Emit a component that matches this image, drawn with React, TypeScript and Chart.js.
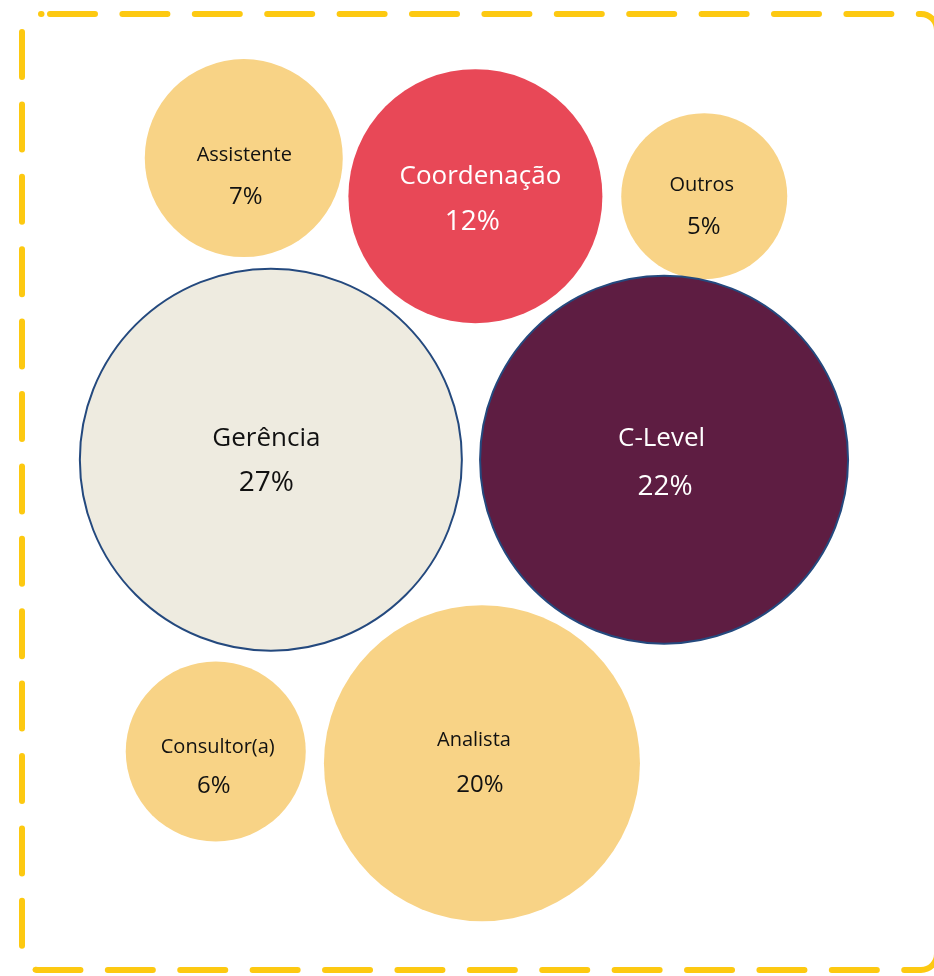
import React, { useEffect, useRef } from "react";
import { Chart, registerables } from "chart.js";

Chart.register(...registerables);

// ---- Data ----
const categories = ["Assistente", "Coordenação", "Outros", "Gerência", "C-Level", "Consultor(a)", "Analista"];
const percentages = [7, 12, 5, 27, 22, 6, 20];
// bubble positions (x, y on a 0–100 grid) and bubble sizes
const xValues = [26.1, 50.9, 75.4, 29.0, 71.1, 23.1, 51.6];
const yValues = [83.8, 79.9, 79.9, 52.9, 52.9, 23.0, 21.8];
const bubbleSizes = [99, 127, 83, 191, 184, 90, 158];

// ---- Styles ----
const YELLOW = "#F8D386";
const fillColors = [YELLOW, "#E84857", YELLOW, "#EEEBE0", "#5E1D42", YELLOW, YELLOW];
const strokeColors = ["rgba(0,0,0,0)", "rgba(0,0,0,0)", "rgba(0,0,0,0)", "#24497E", "#24497E", "rgba(0,0,0,0)", "rgba(0,0,0,0)"];
const strokeWidths = [0, 0, 0, 2, 2, 0, 0];
const textColors = ["#111111", "#FFFFFF", "#111111", "#111111", "#FFFFFF", "#111111", "#111111"];
const nameFontSizes = [20, 26, 20, 26, 26, 20, 20];
const pctFontSizes = [24, 28, 24, 28, 28, 24, 24];
const nameOffsets = [[0.5, 2.7], [5, -11.7], [-2.5, -5.3], [-4.5, -13.3], [-2.5, -14], [2, 1], [-8, -17.3]];
const pctOffsets = [[2, 46], [-3, 34], [-0.5, 38], [-4.5, 31.7], [1, 35], [-2, 41], [-2, 29]];
const FONT = "'Open Sans', 'Noto Sans', sans-serif";

const labelPlugin = {
  id: "bubbleLabels",
  afterDatasetsDraw(chart: any) {
    const ctx = chart.ctx;
    const meta = chart.getDatasetMeta(0);
    ctx.save();
    ctx.textAlign = "center";
    ctx.textBaseline = "alphabetic";
    meta.data.forEach((el: any, i: number) => {
      ctx.fillStyle = textColors[i];
      ctx.font = `${nameFontSizes[i]}px ${FONT}`;
      ctx.fillText(categories[i], el.x + nameOffsets[i][0], el.y + nameOffsets[i][1]);
      ctx.font = `${pctFontSizes[i]}px ${FONT}`;
      ctx.fillText(`${percentages[i]}%`, el.x + pctOffsets[i][0], el.y + pctOffsets[i][1]);
    });
    ctx.restore();
  },
};

const framePlugin = {
  id: "dashedFrame",
  afterDraw(chart: any) {
    const ctx = chart.ctx;
    const left = 22, top = 14, right = 937, bottom = 970, r = 16;
    ctx.save();
    ctx.strokeStyle = "#FDC911";
    ctx.lineWidth = 6;
    ctx.lineCap = "round";
    ctx.lineJoin = "round";
    ctx.setLineDash([45, 27.4]);

    // top edge + right side
    ctx.lineDashOffset = 60.4;
    ctx.beginPath();
    ctx.moveTo(left + r, top);
    ctx.lineTo(right - r, top);
    ctx.arcTo(right, top, right, top + r, r);
    ctx.lineTo(right, bottom - r);
    ctx.stroke();

    // bottom edge with its corners
    ctx.lineDashOffset = 50;
    ctx.beginPath();
    ctx.moveTo(left, bottom - r);
    ctx.arcTo(left, bottom, left + r, bottom, r);
    ctx.lineTo(right - r, bottom);
    ctx.arcTo(right, bottom, right, bottom - r, r);
    ctx.stroke();

    // left edge
    ctx.lineDashOffset = 0;
    ctx.beginPath();
    ctx.moveTo(left, 32);
    ctx.lineTo(left, bottom - 18);
    ctx.stroke();

    // small dot at the top-left start
    ctx.setLineDash([]);
    ctx.beginPath();
    ctx.moveTo(41, top);
    ctx.lineTo(41.5, top);
    ctx.stroke();
    ctx.restore();
  },
};

export default function App() {
  const canvasRef = useRef<HTMLCanvasElement | null>(null);

  useEffect(() => {
    document.body.style.margin = "0";
    const canvas = canvasRef.current;
    if (!canvas) return;
    const chart = new Chart(canvas, {
      type: "bubble",
      data: {
        datasets: [
          {
            label: "Cargos",
            data: categories.map((_, i) => ({ x: xValues[i], y: yValues[i], r: bubbleSizes[i] })),
            backgroundColor: fillColors,
            borderColor: strokeColors,
            borderWidth: strokeWidths,
            hoverBorderWidth: strokeWidths,
            hoverRadius: 0,
            clip: false as any,
          } as any,
        ],
      },
      options: {
        responsive: false,
        devicePixelRatio: 1,
        animation: false,
        events: [],
        layout: { padding: 0, autoPadding: false },
        scales: {
          x: { type: "linear", min: 0, max: 100, display: false },
          y: { type: "linear", min: 0, max: 100, display: false },
        },
        plugins: {
          legend: { display: false },
          tooltip: { enabled: false },
        },
      },
      plugins: [labelPlugin, framePlugin],
    });
    return () => chart.destroy();
  }, []);

  return (
    <div style={{ width: 934, height: 976, background: "#FFFFFF" }}>
      <canvas ref={canvasRef} width={934} height={976} style={{ display: "block" }} />
    </div>
  );
}
